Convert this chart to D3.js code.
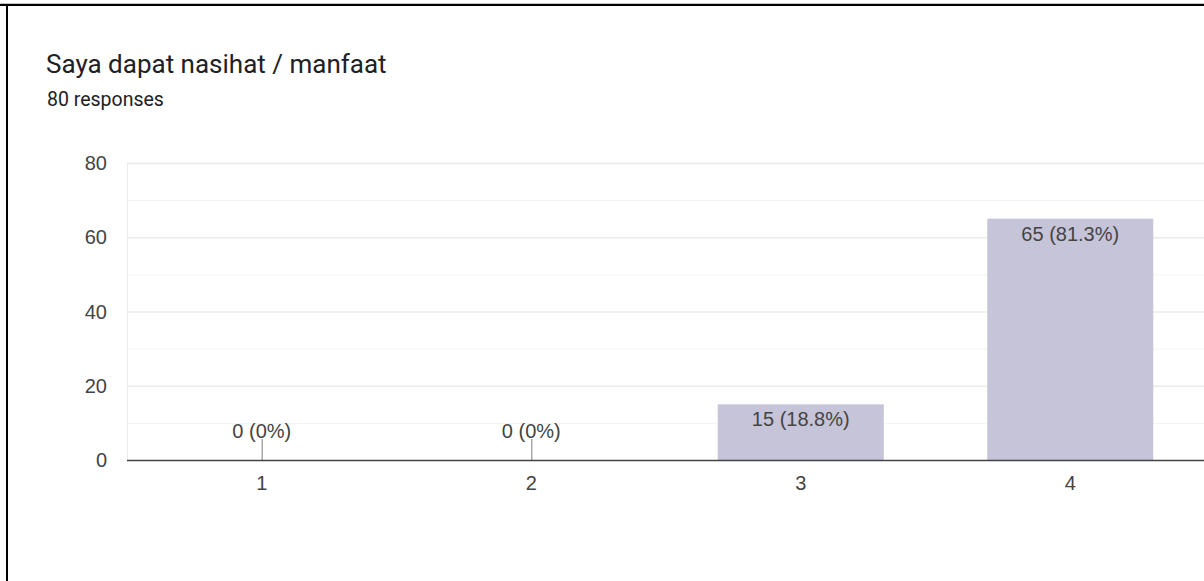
<!DOCTYPE html>
<html>
<head>
<meta charset="utf-8">
<script src="https://cdn.jsdelivr.net/npm/d3@7"></script>
<style>
  body { margin: 0; background: #fff; }
  svg { display: block; font-family: Roboto, Arial, sans-serif; }
</style>
</head>
<body>
<div id="chart"></div>
<script>
var categories = ["1", "2", "3", "4"];
var counts = [0, 0, 15, 65];
var percents = ["0%", "0%", "18.8%", "81.3%"];
var yTicks = [0, 20, 40, 60, 80];
var yMinor = [10, 30, 50, 70];

var W = 1204, H = 581;
var margin = {top: 163, left: 127, right: -1, bottom: 121};
var labelFont = "Arial, 'Liberation Sans', sans-serif";

var svg = d3.select("#chart").append("svg")
    .attr("width", W)
    .attr("height", H);

// frame
svg.append("rect").attr("x", 0).attr("y", 3).attr("width", W).attr("height", 1).attr("fill", "#c8c8c8");
svg.append("line").attr("x1", 0).attr("x2", W).attr("y1", 5).attr("y2", 5)
    .attr("stroke", "#000").attr("stroke-width", 2);
svg.append("line").attr("x1", 7).attr("x2", 7).attr("y1", 4).attr("y2", H)
    .attr("stroke", "#000").attr("stroke-width", 2);

svg.append("text").attr("x", 46).attr("y", 73)
    .attr("font-size", 26).attr("fill", "#202124")
    .text("Saya dapat nasihat / manfaat");
svg.append("text").attr("x", 47).attr("y", 106)
    .attr("font-size", 19.5).attr("fill", "#202124")
    .text("80 responses");

var x = d3.scaleBand()
    .domain(categories)
    .range([margin.left, W - margin.right])
    .paddingInner(0.384)
    .paddingOuter(0.192);

var y = d3.scaleLinear()
    .domain([0, 80])
    .range([H - margin.bottom, margin.top]);

// gridlines
svg.append("g").selectAll("line").data(yMinor).join("line")
    .attr("x1", margin.left).attr("x2", W)
    .attr("y1", d => y(d) + 0.5).attr("y2", d => y(d) + 0.5)
    .attr("stroke", "#f3f3f3").attr("stroke-width", 1);
svg.append("g").selectAll("line").data(yTicks.slice(1)).join("line")
    .attr("x1", margin.left).attr("x2", W)
    .attr("y1", d => y(d) + 0.5).attr("y2", d => y(d) + 0.5)
    .attr("stroke", "#ebebeb").attr("stroke-width", 1.3);
svg.append("line")
    .attr("x1", margin.left + 0.5).attr("x2", margin.left + 0.5)
    .attr("y1", y(80)).attr("y2", y(0))
    .attr("stroke", "#ebebeb");

// y labels
svg.append("g").selectAll("text").data(yTicks).join("text")
    .attr("x", 107).attr("y", d => y(d) + 7)
    .attr("text-anchor", "end")
    .attr("font-family", labelFont)
    .attr("font-size", 20).attr("fill", "#444")
    .text(d => d);

// bars
var data = categories.map((c, i) => ({cat: c, v: counts[i], p: percents[i]}));

svg.append("g").selectAll("rect").data(data.filter(d => d.v > 0)).join("rect")
    .attr("x", d => x(d.cat))
    .attr("y", d => y(d.v))
    .attr("width", x.bandwidth())
    .attr("height", d => y(0) - y(d.v))
    .attr("fill", "#c6c4d8");

// stubs for zero bars
svg.append("g").selectAll("line").data(data.filter(d => d.v === 0)).join("line")
    .attr("x1", d => x(d.cat) + x.bandwidth() / 2 + 0.5)
    .attr("x2", d => x(d.cat) + x.bandwidth() / 2 + 0.5)
    .attr("y1", y(0) - 21).attr("y2", y(0))
    .attr("stroke", "#aaa").attr("stroke-width", 1.5);

// value labels
svg.append("g").selectAll("text").data(data).join("text")
    .attr("x", d => x(d.cat) + x.bandwidth() / 2)
    .attr("y", d => d.v === 0 ? y(0) - 22 : y(d.v) + 22)
    .attr("text-anchor", "middle")
    .attr("font-family", labelFont)
    .attr("font-size", 20).attr("fill", "#444")
    .text(d => d.v + " (" + d.p + ")");

// x axis line
svg.append("line")
    .attr("x1", margin.left).attr("x2", W)
    .attr("y1", y(0) + 0.5).attr("y2", y(0) + 0.5)
    .attr("stroke", "#444").attr("stroke-width", 1.5);

// x labels
svg.append("g").selectAll("text").data(categories).join("text")
    .attr("x", d => x(d) + x.bandwidth() / 2)
    .attr("y", y(0) + 30)
    .attr("text-anchor", "middle")
    .attr("font-family", labelFont)
    .attr("font-size", 20).attr("fill", "#444")
    .text(d => d);
</script>
</body>
</html>
